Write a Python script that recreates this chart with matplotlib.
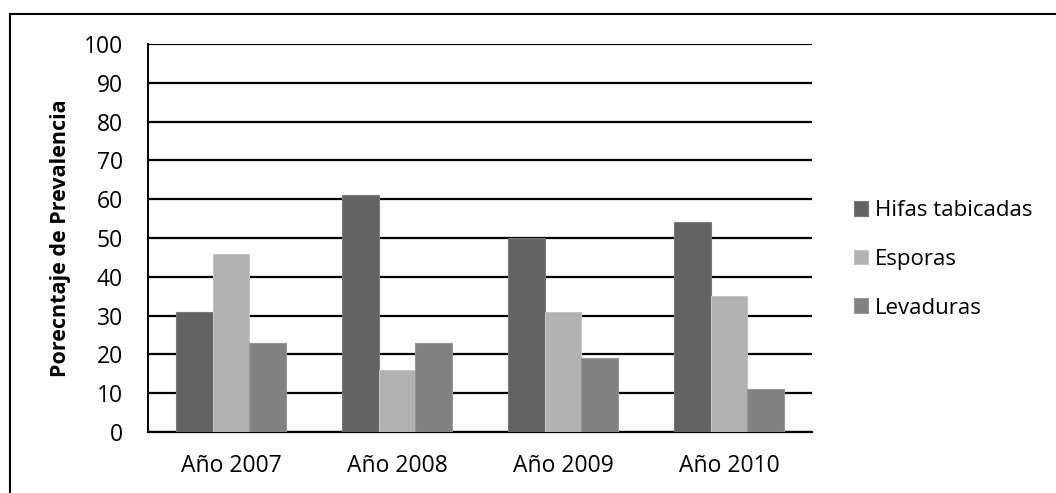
import matplotlib
matplotlib.use("Agg")
import matplotlib.pyplot as plt
import numpy as np
from matplotlib.patches import Rectangle

categories = ["Año 2007", "Año 2008", "Año 2009", "Año 2010"]
series_names = ["Hifas tabicadas", "Esporas", "Levaduras"]
hifas = [31, 61, 50, 54]
esporas = [46, 16, 31, 35]
levaduras = [23, 23, 19, 11]
colors = ["#636363", "#b2b2b2", "#828282"]
edges = ["#7a7a7a", "#c4c4c4", "#969696"]

plt.rcParams['font.family'] = ['Open Sans', 'DejaVu Sans']

fig = plt.figure(figsize=(10.56, 4.93), dpi=100)
ax = fig.add_axes([148/1056, 1-432/493, (812-148)/1056, (432-44)/493])

x = np.arange(len(categories))
w = 0.221
for i, (vals, name) in enumerate(zip([hifas, esporas, levaduras], series_names)):
    ax.bar(x + (i-1)*w, vals, w, color=colors[i], edgecolor=edges[i], linewidth=0.8,
           label=name, zorder=3)

ax.set_xlim(-0.5, 3.5)
ax.set_ylim(0, 100)
ax.set_yticks(range(0, 101, 10))
ax.set_xticks(x)
ax.set_xticklabels(categories)
ax.yaxis.grid(True, color="black", linewidth=1.6, zorder=1)
ax.set_axisbelow(True)
for s in ["top", "right"]:
    ax.spines[s].set_visible(False)
ax.spines["left"].set_linewidth(1.4)
ax.spines["bottom"].set_linewidth(1.6)
ax.tick_params(axis="both", length=0, labelsize=16.5, colors="black")
ax.tick_params(axis="y", pad=18)
ax.tick_params(axis="x", pad=16)
ax.set_ylabel("Porecntaje de Prevalencia", fontsize=15.5, fontweight="bold", labelpad=9)

leg = ax.legend(loc="center left", bbox_to_anchor=(1.033, 0.445), frameon=False,
                fontsize=16, handlelength=0.65, handleheight=0.65,
                handletextpad=0.3, labelspacing=1.25)

fig.patches.append(Rectangle((10/1056, -0.1), 1.2, 1-14/493+0.1, transform=fig.transFigure,
                             fill=False, edgecolor="black", linewidth=1.5))

fig.savefig("out.png", dpi=100)
